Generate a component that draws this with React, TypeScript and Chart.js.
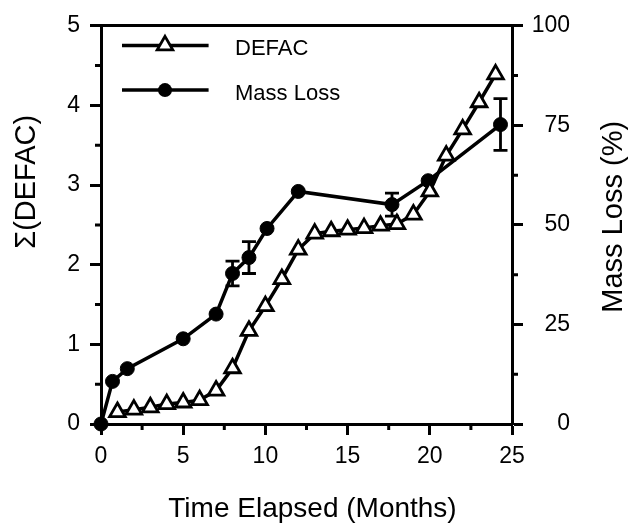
import React, { useEffect, useRef } from "react";
import { Chart, registerables } from "chart.js";

Chart.register(...registerables);

// ---- data ----
const defacMonths = [1, 2, 3, 4, 5, 6, 7, 8, 9, 10, 11, 12, 13, 14, 15, 16, 17, 18, 19, 20, 21, 22, 23, 24];
const defacValues = [0.15, 0.18, 0.21, 0.25, 0.27, 0.3, 0.42, 0.7, 1.17, 1.48, 1.82, 2.19, 2.39, 2.42, 2.44, 2.46, 2.49, 2.51, 2.63, 2.92, 3.37, 3.7, 4.04, 4.39];

const massMonths = [0, 0.7, 1.6, 5, 7, 8, 9, 10.1, 12, 17.7, 19.9, 24.3];
const massValues = [0, 10.7, 13.9, 21.4, 27.6, 37.8, 41.8, 49.1, 58.4, 55.1, 61.1, 75.2];
const massErrors = [0, 0, 0, 0, 0, 3.1, 4.0, 0, 0, 2.9, 0, 6.5];

const xMinorTicks = [2.5, 7.5, 12.5, 17.5, 22.5];
const leftMinorTicks = [0.5, 1.5, 2.5, 3.5, 4.5];
const rightMinorTicks = [12.5, 37.5, 62.5, 87.5];

const seriesNames = ["DEFAC", "Mass Loss"];
const xTitle = "Time Elapsed (Months)";
const leftTitle = "Σ(DEFAC)";
const rightTitle = "Mass Loss (%)";

const FONT = "'Liberation Sans', Arial, Helvetica, sans-serif";

const decorPlugin = {
  id: "decor",
  beforeDatasetsDraw(chart: any) {
    const ctx = chart.ctx;
    const xs = chart.scales.x;
    const ys = chart.scales.y1;
    ctx.save();
    ctx.strokeStyle = "#000";
    ctx.lineWidth = 2.8;
    massMonths.forEach((m, i) => {
      const e = massErrors[i];
      if (!e) return;
      const px = xs.getPixelForValue(m);
      const top = ys.getPixelForValue(massValues[i] + e);
      const bot = ys.getPixelForValue(massValues[i] - e);
      ctx.beginPath();
      ctx.moveTo(px, top);
      ctx.lineTo(px, bot);
      ctx.moveTo(px - 7, top);
      ctx.lineTo(px + 7, top);
      ctx.moveTo(px - 7, bot);
      ctx.lineTo(px + 7, bot);
      ctx.stroke();
    });
    ctx.restore();
  },
  afterDraw(chart: any) {
    const ctx = chart.ctx;
    const area = chart.chartArea;
    const xs = chart.scales.x;
    const yl = chart.scales.y;
    const yr = chart.scales.y1;
    ctx.save();
    ctx.strokeStyle = "#000";
    ctx.lineWidth = 3;
    ctx.beginPath();
    xMinorTicks.forEach((v) => {
      const p = xs.getPixelForValue(v);
      ctx.moveTo(p, area.bottom);
      ctx.lineTo(p, area.bottom + 6);
    });
    leftMinorTicks.forEach((v) => {
      const p = yl.getPixelForValue(v);
      ctx.moveTo(area.left, p);
      ctx.lineTo(area.left - 6, p);
    });
    rightMinorTicks.forEach((v) => {
      const p = yr.getPixelForValue(v);
      ctx.moveTo(area.right, p);
      ctx.lineTo(area.right + 6, p);
    });
    ctx.stroke();

    // legend
    const ds = chart.data.datasets;
    const legendY = [area.top + 19.6, area.top + 64.3];
    ds.forEach((d: any, i: number) => {
      const y = legendY[i];
      ctx.lineWidth = d.borderWidth;
      ctx.strokeStyle = "#000";
      ctx.beginPath();
      ctx.moveTo(area.left + 21, y);
      ctx.lineTo(area.left + 107.6, y);
      ctx.stroke();
      const cx = area.left + 64;
      if (d.pointStyle === "triangle") {
        const r = d.pointRadius;
        ctx.beginPath();
        ctx.moveTo(cx, y - r);
        ctx.lineTo(cx + r * Math.sin((2 * Math.PI) / 3), y - r * Math.cos((2 * Math.PI) / 3));
        ctx.lineTo(cx + r * Math.sin((4 * Math.PI) / 3), y - r * Math.cos((4 * Math.PI) / 3));
        ctx.closePath();
        ctx.fillStyle = "#fff";
        ctx.fill();
        ctx.lineWidth = d.pointBorderWidth;
        ctx.stroke();
      } else {
        ctx.beginPath();
        ctx.arc(cx, y, d.pointRadius, 0, Math.PI * 2);
        ctx.fillStyle = "#000";
        ctx.fill();
      }
      ctx.fillStyle = "#000";
      ctx.font = `22px ${FONT}`;
      ctx.textAlign = "left";
      ctx.textBaseline = "alphabetic";
      ctx.fillText(d.label, area.left + 134, y + 10);
    });

    // axis titles
    ctx.fillStyle = "#000";
    ctx.textAlign = "center";
    ctx.textBaseline = "alphabetic";
    ctx.font = `28px ${FONT}`;
    ctx.fillText(xTitle, (area.left + area.right) / 2 + 6, area.bottom + 93);

    ctx.font = `29px ${FONT}`;
    ctx.save();
    ctx.translate(area.left - 66, area.top + 156);
    ctx.rotate(-Math.PI / 2);
    ctx.fillText(leftTitle, 0, 0);
    ctx.restore();

    ctx.save();
    ctx.translate(area.right + 110, area.top + 191);
    ctx.rotate(-Math.PI / 2);
    ctx.fillText(rightTitle, 0, 0);
    ctx.restore();

    ctx.restore();
  },
};

export default function App() {
  const canvasRef = useRef<HTMLCanvasElement | null>(null);

  useEffect(() => {
    if (!canvasRef.current) return;
    const tickFont = { family: FONT, size: 23 };
    const gridCommon = {
      drawOnChartArea: false,
      drawTicks: true,
      tickLength: 11,
      tickWidth: 3,
      tickColor: "#000",
    };
    const border = { display: true, color: "#000", width: 3 };

    const chart = new Chart(canvasRef.current, {
      type: "line",
      data: {
        datasets: [
          {
            label: seriesNames[0],
            data: defacMonths.map((m, i) => ({ x: m, y: defacValues[i] })),
            yAxisID: "y",
            xAxisID: "x",
            borderColor: "#000",
            borderWidth: 3.5,
            pointStyle: "triangle",
            pointRadius: 9,
            pointBackgroundColor: "#fff",
            pointBorderColor: "#000",
            pointBorderWidth: 2.8,
            tension: 0,
            clip: false,
          } as any,
          {
            label: seriesNames[1],
            data: massMonths.map((m, i) => ({ x: m, y: massValues[i] })),
            yAxisID: "y1",
            xAxisID: "x",
            borderColor: "#000",
            borderWidth: 3.5,
            pointStyle: "circle",
            pointRadius: 7,
            pointBackgroundColor: "#000",
            pointBorderColor: "#000",
            pointBorderWidth: 1,
            tension: 0,
            clip: false,
          } as any,
        ],
      },
      options: {
        responsive: false,
        animation: false,
        devicePixelRatio: 1,
        layout: { padding: { top: 23, right: 66, left: 0, bottom: 0 } },
        plugins: {
          legend: { display: false },
          tooltip: { enabled: false },
        },
        scales: {
          x: {
            type: "linear",
            position: "bottom",
            min: 0,
            max: 25,
            ticks: { stepSize: 5, font: tickFont, color: "#000", padding: 8, maxRotation: 0 },
            grid: gridCommon,
            border,
            afterFit: (s: any) => {
              s.height = 99;
            },
          },
          xTop: {
            type: "linear",
            position: "top",
            min: 0,
            max: 25,
            ticks: { display: false },
            grid: { display: false, drawTicks: false },
            border,
            afterFit: (s: any) => {
              s.height = 0;
            },
          },
          y: {
            type: "linear",
            position: "left",
            min: 0,
            max: 5,
            ticks: { stepSize: 1, font: tickFont, color: "#000", padding: 10 },
            grid: gridCommon,
            border,
            afterFit: (s: any) => {
              s.width = 101;
            },
          },
          y1: {
            type: "linear",
            position: "right",
            min: 0,
            max: 100,
            ticks: { stepSize: 25, font: tickFont, color: "#000", padding: 12, crossAlign: "far" },
            grid: gridCommon,
            border,
            afterFit: (s: any) => {
              s.width = 58;
            },
          },
        } as any,
      },
      plugins: [decorPlugin],
    });
    return () => chart.destroy();
  }, []);

  return (
    <div style={{ position: "fixed", left: 0, top: 0, width: 636, height: 523, background: "#fff" }}>
      <canvas ref={canvasRef} width={636} height={523} style={{ display: "block" }} />
    </div>
  );
}
